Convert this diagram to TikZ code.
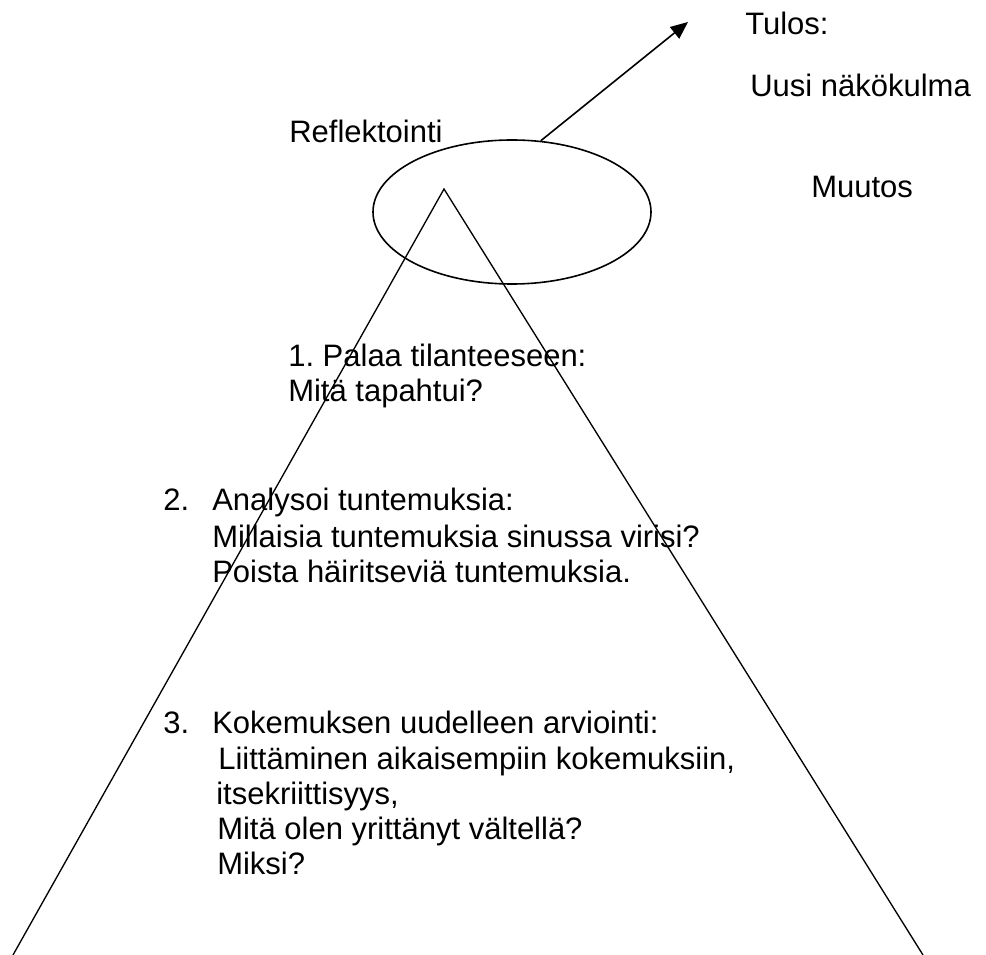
\documentclass[tikz,border=0pt]{standalone}
\usepackage{fontspec}
\setmainfont{Liberation Sans}
\frenchspacing
\usetikzlibrary{shapes.geometric,arrows.meta}
\begin{document}
\begin{tikzpicture}[x=0.75pt,y=-0.75pt,
    txt/.style={anchor=base west,inner sep=0pt,font=\fontsize{23.25pt}{26.25pt}\selectfont},
    leg/.style={line width=1pt}]
  \useasboundingbox (0,0) rectangle (986,955);
  % reflection ellipse and result arrow
  \node[ellipse,draw,line width=1.2pt,minimum width=208.5pt,minimum height=108pt,inner sep=0pt] (refl) at (512,212) {};
  \coordinate (tip) at (688,22);
  \draw[line width=1.2pt,-{Triangle[length=13pt,width=11pt]}] (refl.68) -- (tip);
  % pyramid
  \coordinate (apex) at (444,189);
  \coordinate (leftfoot) at (13,955);
  \coordinate (rightfoot) at (923,955);
  \draw[leg] (leftfoot) -- (apex) -- (rightfoot);
  % labels
  \node[txt] (tulos) at (745,35) {Tulos:};
  \node[txt] (uusi) at (750,97) {Uusi näkökulma};
  \node[txt] (muutos) at (811,198) {Muutos};
  \node[txt] (refltxt) at (289,143) {Reflektointi};
  % step 1
  \node[txt] (s1) at (288,367) {1. Palaa tilanteeseen:};
  \node[txt] (s1q) at (288,402) {Mitä tapahtui?};
  % step 2
  \node[txt] (n2) at (163,511) {2.};
  \node[txt] (s2) at (212,511) {Analysoi tuntemuksia:};
  \node[txt] (s2a) at (212,547) {Millaisia tuntemuksia sinussa virisi?};
  \node[txt] (s2b) at (212,583) {Poista häiritseviä tuntemuksia.};
  % step 3
  \node[txt] (n3) at (163,733) {3.};
  \node[txt] (s3) at (212,733) {Kokemuksen uudelleen arviointi:};
  \node[txt] (s3a) at (218,769) {Liittäminen aikaisempiin kokemuksiin,};
  \node[txt] (s3b) at (216,804) {itsekriittisyys,};
  \node[txt] (s3c) at (217,839) {Mitä olen yrittänyt vältellä?};
  \node[txt] (s3d) at (217,874) {Miksi?};
\end{tikzpicture}
\end{document}
